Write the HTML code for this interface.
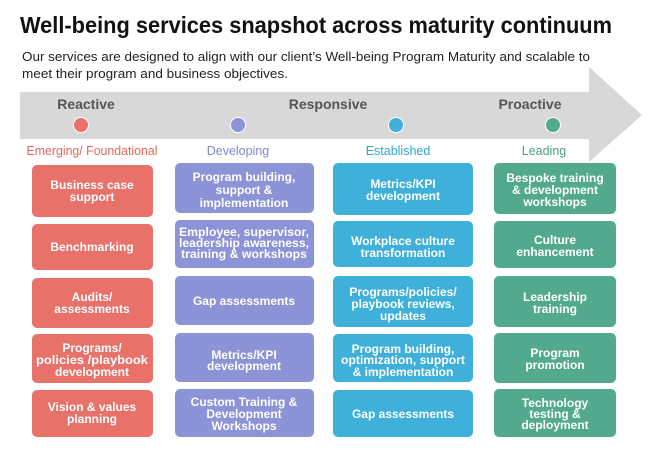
<!DOCTYPE html>
<html><head><meta charset="utf-8"><style>
body{margin:0;background:#fff;}
svg{display:block;font-family:"Liberation Sans",sans-serif;}
.b{font-weight:bold;font-size:12px;fill:#fff;text-anchor:middle;}
</style></head><body>
<svg width="650" height="450" viewBox="0 0 650 450">
<rect width="650" height="450" fill="#fff"/>
<text x="20" y="33" font-size="23" font-weight="bold" fill="#111" textLength="592" lengthAdjust="spacingAndGlyphs">Well-being services snapshot across maturity continuum</text>
<text x="22" y="61" font-size="13" fill="#222" textLength="568" lengthAdjust="spacingAndGlyphs">Our services are designed to align with our client’s Well-being Program Maturity and scalable to</text>
<text x="22" y="78" font-size="13" fill="#222" textLength="266" lengthAdjust="spacingAndGlyphs">meet their program and business objectives.</text>
<polygon points="20,92 589,92 589,67 642,115 589,162 589,139 20,139" fill="#d8d8d8"/>
<g font-size="14" font-weight="bold" fill="#555" text-anchor="middle">
<text x="86" y="109">Reactive</text><text x="328" y="109">Responsive</text><text x="530" y="109">Proactive</text></g>
<circle cx="81" cy="125" r="7.5" fill="#e8716a" stroke="#fff" stroke-width="1"/>
<circle cx="238" cy="125" r="7.5" fill="#8c93d6" stroke="#fff" stroke-width="1"/>
<circle cx="396" cy="125" r="7.5" fill="#3eb0d9" stroke="#fff" stroke-width="1"/>
<circle cx="553" cy="125" r="7.5" fill="#52a98d" stroke="#fff" stroke-width="1"/>
<g font-size="12.5" text-anchor="middle">
<text x="92" y="155" fill="#e0675f" textLength="131" lengthAdjust="spacingAndGlyphs">Emerging/ Foundational</text>
<text x="238" y="155" fill="#8088cf">Developing</text>
<text x="398" y="155" fill="#2ea6d2">Established</text>
<text x="544" y="155" fill="#4a9f85">Leading</text></g>
<g fill="#e8716a">
<rect x="32" y="165" width="121" height="52" rx="5"/><rect x="32" y="224" width="121" height="46" rx="5"/><rect x="32" y="278" width="121" height="50" rx="5"/><rect x="32" y="334" width="121" height="49" rx="5"/><rect x="32" y="390" width="121" height="47" rx="5"/></g>
<g fill="#8c93d6">
<rect x="175" y="163" width="139" height="50" rx="5"/><rect x="175" y="220" width="139" height="48" rx="5"/><rect x="175" y="276" width="139" height="49" rx="5"/><rect x="175" y="333" width="139" height="49" rx="5"/><rect x="175" y="389" width="139" height="48" rx="5"/></g>
<g fill="#3eb0d9">
<rect x="333" y="163" width="140" height="52" rx="5"/><rect x="333" y="221" width="140" height="46" rx="5"/><rect x="333" y="276" width="140" height="51" rx="5"/><rect x="333" y="334" width="140" height="48" rx="5"/><rect x="333" y="390" width="140" height="47" rx="5"/></g>
<g fill="#52a98d">
<rect x="494" y="163" width="122" height="51" rx="5"/><rect x="494" y="221" width="122" height="47" rx="5"/><rect x="494" y="276" width="122" height="51" rx="5"/><rect x="494" y="333" width="122" height="50" rx="5"/><rect x="494" y="389" width="122" height="48" rx="5"/></g>
<g class="b">
<text x="92" y="189">Business case</text><text x="92" y="201">support</text>
<text x="92" y="251">Benchmarking</text>
<text x="92" y="301">Audits/</text><text x="92" y="313">assessments</text>
<text x="92" y="352">Programs/</text><text x="92" y="364" textLength="112" lengthAdjust="spacingAndGlyphs">policies /playbook</text><text x="92" y="376">development</text>
<text x="92" y="411">Vision &amp; values</text><text x="92" y="423">planning</text>

<text x="244" y="181">Program building,</text><text x="244" y="194">support &amp;</text><text x="244" y="207">implementation</text>
<text x="244" y="236" textLength="130" lengthAdjust="spacingAndGlyphs">Employee, supervisor,</text><text x="244" y="247" textLength="130" lengthAdjust="spacingAndGlyphs">leadership awareness,</text><text x="244" y="258" textLength="126" lengthAdjust="spacingAndGlyphs">training &amp; workshops</text>
<text x="244" y="305">Gap assessments</text>
<text x="244" y="359">Metrics/KPI</text><text x="244" y="370">development</text>
<text x="244" y="406">Custom Training &amp;</text><text x="244" y="418">Development</text><text x="244" y="430">Workshops</text>

<text x="403" y="188">Metrics/KPI</text><text x="403" y="200">development</text>
<text x="403" y="245">Workplace culture</text><text x="403" y="257">transformation</text>
<text x="403" y="296">Programs/policies/</text><text x="403" y="308">playbook reviews,</text><text x="403" y="320">updates</text>
<text x="403" y="353">Program building,</text><text x="403" y="364" textLength="124" lengthAdjust="spacingAndGlyphs">optimization, support</text><text x="403" y="376">&amp; implementation</text>
<text x="403" y="418">Gap assessments</text>

<text x="555" y="182">Bespoke training</text><text x="555" y="194">&amp; development</text><text x="555" y="206">workshops</text>
<text x="555" y="244">Culture</text><text x="555" y="256">enhancement</text>
<text x="555" y="301">Leadership</text><text x="555" y="313">training</text>
<text x="555" y="357">Program</text><text x="555" y="369">promotion</text>
<text x="555" y="407">Technology</text><text x="555" y="418">testing &amp;</text><text x="555" y="429">deployment</text>
</g>
</svg>
</body></html>
